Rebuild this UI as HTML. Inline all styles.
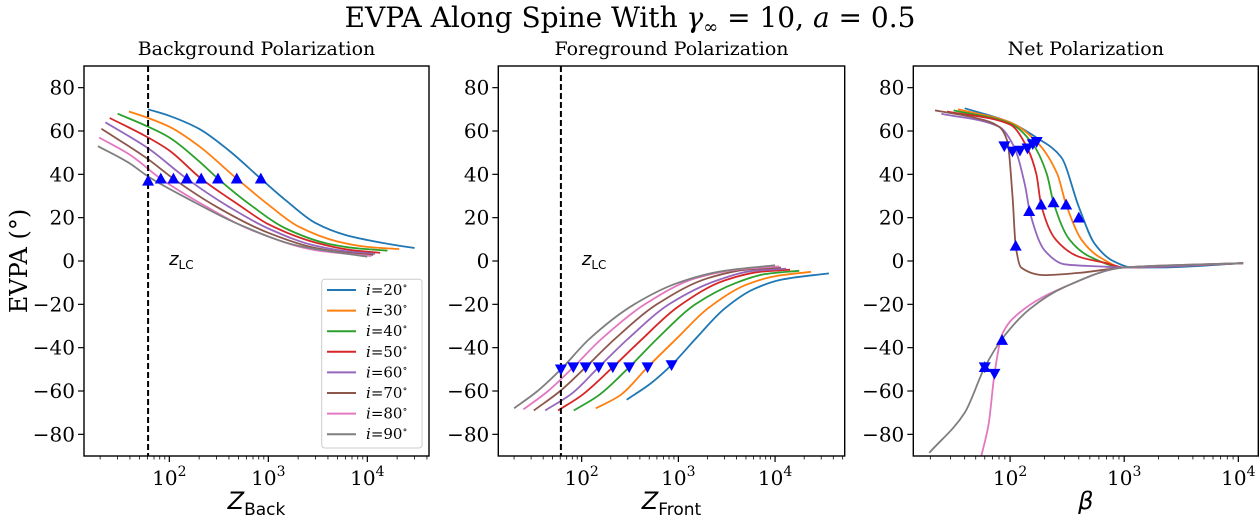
<!DOCTYPE html>
<html><head><meta charset="utf-8"><style>
body{margin:0;background:#fff;}
svg{display:block;font-family:"DejaVu Serif","Liberation Serif",serif;}
</style></head><body>
<svg id="chart" width="1260" height="518" viewBox="0 0 1260 518" xmlns="http://www.w3.org/2000/svg">
<text x="630" y="27" text-anchor="middle" font-size="28">EVPA Along Spine With <tspan font-style="italic">γ</tspan><tspan font-size="18" dy="6">∞</tspan><tspan dy="-6"> = 10, </tspan><tspan font-style="italic">a</tspan> = 0.5</text>
<g id="plots"></g>
</svg>
<script>
const colors=["#1f77b4","#ff7f0e","#2ca02c","#d62728","#9467bd","#8c564b","#e377c2","#7f7f7f"];
const inclinations=[20,30,40,50,60,70,80,90];
const zLC=61;
const backSeries=[
 [[61,70],[100,67],[200,61],[400,51],[840,38],[1500,28],[3000,17.5],[6000,12],[10000,9.7],[20000,7.2],[30000,6]],
 [[39,69],[61,66],[100,62],[200,53],[480,38],[1000,26],[2000,16],[5000,9],[10000,6.5],[21000,5.5]],
 [[30,68],[61,62],[100,57],[200,46],[310,38],[700,25],[1500,15],[4000,8],[8000,5.8],[16000,4.8]],
 [[25,66],[61,57],[100,51],[210,38],[500,26],[1000,17],[3000,8.5],[7000,5],[13500,3.8]],
 [[22.6,64],[61,52],[150,38],[400,25],[1000,15],[3000,7],[7000,4.2],[12000,3.3]],
 [[20.6,61],[61,47],[110,38],[300,25],[1000,13],[3000,6],[7000,3.5],[11500,2.8]],
 [[19.5,57],[40,49],[82,38],[200,27],[700,14],[3000,5],[11000,2.3]],
 [[19,53],[40,45],[61,39],[150,29],[500,17],[2000,7],[10000,2]]
];
const backMarkX=[840,480,310,210,150,110,82,61];
const backMarkY=[38,38,38,38,38,38,38,37];
const frontSeries=[
 [[292,-64],[500,-57],[850,-48],[1500,-36],[3000,-22],[6000,-13],[12000,-8.5],[36000,-5.7]],
 [[140,-68],[250,-62],[480,-49],[1000,-35],[2000,-22],[5000,-11],[10000,-7],[23500,-5]],
 [[83,-69],[150,-62],[310,-49],[600,-36],[1500,-20],[4000,-10],[8000,-6],[17800,-4.5]],
 [[57,-69],[100,-62],[210,-49],[400,-37],[1000,-21],[3000,-9],[7000,-5],[14300,-4]],
 [[42,-69],[80,-61],[150,-49],[300,-36],[800,-20],[2500,-9],[6000,-4.5],[13000,-3.5]],
 [[32,-69],[60,-60],[110,-49],[220,-36],[600,-20],[2000,-8],[5000,-4],[11500,-3]],
 [[25,-68.5],[45,-60],[82,-49],[160,-36],[450,-20],[1500,-8],[4000,-4],[11000,-2.5]],
 [[20,-68],[35,-60],[61,-50],[120,-36],[350,-20],[1000,-10],[3000,-4.5],[10000,-2]]
];
const frontMarkX=[850,480,310,210,150,110,82,61];
const frontMarkY=[-48,-49,-49,-49,-49,-49,-49,-50];
const netSeries=[
 [[40,70.5],[100,64],[170,57],[280,48],[400,25],[550,8],[800,0],[1200,-3],[2000,-3],[11000,-1]],
 [[35,70],[100,64],[171,55],[260,40],[310,26],[420,10],[600,2],[1000,-3],[11000,-1]],
 [[32,69.5],[100,63.5],[158,54],[210,40],[240,27],[330,10],[500,2],[1000,-3],[11000,-1]],
 [[28,69],[100,63],[142,52],[170,40],[187,26],[250,10],[400,2],[700,-1],[1000,-3],[11000,-1]],
 [[25,68],[80,62],[110,52],[135,35],[150,22],[200,5],[300,-1.5],[600,-2.5],[1000,-3],[11000,-1]],
 [[22,69.5],[50,66],[80,62],[95,55],[105,30],[112,7],[125,-3],[200,-6.5],[400,-5.5],[1000,-3],[11000,-1]],
 [[56,-90],[65,-75],[73,-52],[85,-34],[120,-24],[300,-12],[1000,-3],[11000,-1]],
 [[19.6,-88.5],[40,-70],[60,-49],[85,-36],[150,-22],[300,-12],[1000,-3],[11000,-1]]
];
const netUpX=[400,310,240,187,147,112,60,85];
const netUpY=[20,26,27,26,23,7,-49,-36.5];
const netDownX=[171,158,142,122,105,89,73,60];
const netDownY=[55,54,52,51,50.6,53,-52,-49];
const yTicks=[-80,-60,-40,-20,0,20,40,60,80];

const NS="http://www.w3.org/2000/svg";
const root=document.getElementById('plots');
function mk(tag,attrs,parent){const e=document.createElementNS(NS,tag);for(const k in attrs)e.setAttribute(k,attrs[k]);(parent||root).appendChild(e);return e;}

const panels=[
 {name:"background",title:"Background Polarization",L:84,R:429,lo:1.138,hi:4.623,series:backSeries,xl:"Back",dashed:true},
 {name:"foreground",title:"Foreground Polarization",L:498.3,R:844.7,lo:1.138,hi:4.72,series:frontSeries,xl:"Front",dashed:true},
 {name:"net",title:"Net Polarization",L:913.3,R:1258.3,lo:1.152,hi:4.175,series:netSeries,xl:null,dashed:false}
];
const T=66,B=456;
const ys=v=>T+(90-v)/180*(B-T);

function pathFrom(pts){
 const n=pts.length;const x=pts.map(p=>p[0]),y=pts.map(p=>p[1]);
 const h=[],s=[];for(let i=0;i<n-1;i++){h.push(x[i+1]-x[i]);s.push((y[i+1]-y[i])/h[i]);}
 const m=new Array(n);m[0]=s[0];m[n-1]=s[n-2];
 for(let i=1;i<n-1;i++){if(s[i-1]*s[i]<=0)m[i]=0;else{const w1=2*h[i]+h[i-1],w2=h[i]+2*h[i-1];m[i]=(w1+w2)/(w1/s[i-1]+w2/s[i]);}}
 let d="M"+x[0].toFixed(1)+","+y[0].toFixed(1);
 for(let i=0;i<n-1;i++){const dx=h[i]/3;
  d+=" C"+(x[i]+dx).toFixed(1)+","+(y[i]+m[i]*dx).toFixed(1)+" "+(x[i+1]-dx).toFixed(1)+","+(y[i+1]-m[i+1]*dx).toFixed(1)+" "+x[i+1].toFixed(1)+","+y[i+1].toFixed(1);}
 return d;
}
function tri(x,y,up){const s=6;return up?`M${x},${y-s} L${x+s},${y+s*0.8} L${x-s},${y+s*0.8}Z`:`M${x},${y+s} L${x+s},${y-s*0.8} L${x-s},${y-s*0.8}Z`;}

panels.forEach((p,pi)=>{
 const xs=v=>p.L+(Math.log10(v)-p.lo)/(p.hi-p.lo)*(p.R-p.L);
 const g=mk('g',{});
 
 
 const cp=mk('clipPath',{id:'clip'+pi},g);mk('rect',{x:p.L,y:T,width:p.R-p.L,height:B-T},cp);
 const t=mk('text',{x:(p.L+p.R)/2,y:55,'text-anchor':'middle','font-size':19},g);t.textContent=p.title;
 
 yTicks.forEach(v=>{
  mk('line',{x1:p.L-6,x2:p.L,y1:ys(v),y2:ys(v),stroke:'#000','stroke-width':1.2},g);
  const tl=mk('text',{x:p.L-9,y:ys(v)+7,'text-anchor':'end','font-size':20},g);
  tl.textContent=(v<0?'\u2212':'')+Math.abs(v);
  
 });
 for(let e=1;e<=4;e++)for(let m=1;m<10;m++){
  const v=m*Math.pow(10,e);const lv=Math.log10(v);if(lv<p.lo||lv>p.hi)continue;
  const x=xs(v);mk('line',{x1:x,x2:x,y1:B,y2:B+(m==1?6:3.5),stroke:'#000','stroke-width':m==1?1.2:0.8},g);
  if(m==1){const tl=mk('text',{x:x,y:B+29,'text-anchor':'middle','font-size':20},g);
   tl.innerHTML='10<tspan font-size="14" dy="-9">'+e+'</tspan>';
   }
 }
 const cg=mk('g',{'clip-path':'url(#clip'+pi+')'},g);
 p.series.forEach((s,si)=>{
  const pts=s.map(d=>[xs(d[0]),ys(d[1])]);
  const pa=mk('path',{d:pathFrom(pts),fill:'none',stroke:colors[si],'stroke-width':1.8},cg);
  
 });
 if(p.dashed){const dl=mk('line',{x1:xs(zLC),x2:xs(zLC),y1:T,y2:B,stroke:'#000','stroke-width':2,'stroke-dasharray':'6,3'},g);
  
  const zt=mk('text',{x:xs(zLC)+21,y:265,'font-family':'DejaVu Sans,sans-serif','font-size':18},g);
  zt.innerHTML='<tspan font-style="italic">z</tspan><tspan font-size="12" dy="4">LC</tspan>';
  }
 const mg=mk('g',{},g);
 if(pi==0)backMarkX.forEach((v,i)=>{const m=mk('path',{d:tri(xs(v),ys(backMarkY[i]),true),fill:'#0000ff'},mg);});
 if(pi==1)frontMarkX.forEach((v,i)=>{const m=mk('path',{d:tri(xs(v),ys(frontMarkY[i]),false),fill:'#0000ff'},mg);});
 if(pi==2){netUpX.forEach((v,i)=>{const m=mk('path',{d:tri(xs(v),ys(netUpY[i]),true),fill:'#0000ff'},mg);});
  netDownX.forEach((v,i)=>{const m=mk('path',{d:tri(xs(v),ys(netDownY[i]),false),fill:'#0000ff'},mg);});}
 mk('rect',{x:p.L,y:T,width:p.R-p.L,height:B-T,fill:'none',stroke:'#000','stroke-width':1.4},g);
 const xl=mk('text',{x:(p.L+p.R)/2,y:509,'text-anchor':'middle','font-family':'DejaVu Sans,sans-serif','font-size':24},g);
 xl.innerHTML=p.xl?'<tspan font-style="italic">Z</tspan><tspan font-size="17" dy="6">'+p.xl+'</tspan>':'<tspan font-style="italic">β</tspan>';
 
});
const yl=mk('text',{x:0,y:0,'text-anchor':'middle','font-size':24,transform:'translate(27,261) rotate(-90)'});
yl.textContent='EVPA (°)';

const lg=mk('g',{});

mk('rect',{x:321.7,y:279.3,width:100.3,height:168.7,rx:3,fill:'#fff','fill-opacity':0.85,stroke:'#ccc','stroke-width':1},lg);
inclinations.forEach((v,i)=>{
 const y=290+i*20.6;
 const en=mk('g',{},lg);
 
 mk('line',{x1:327,x2:356,y1:y,y2:y,stroke:colors[i],'stroke-width':2},en);
 const t=mk('text',{x:366,y:y+5,'font-size':15},en);
 t.innerHTML='<tspan font-style="italic">i</tspan>='+v+'<tspan font-size="10" dy="-6">∘</tspan>';
});
</script>
</body></html>
